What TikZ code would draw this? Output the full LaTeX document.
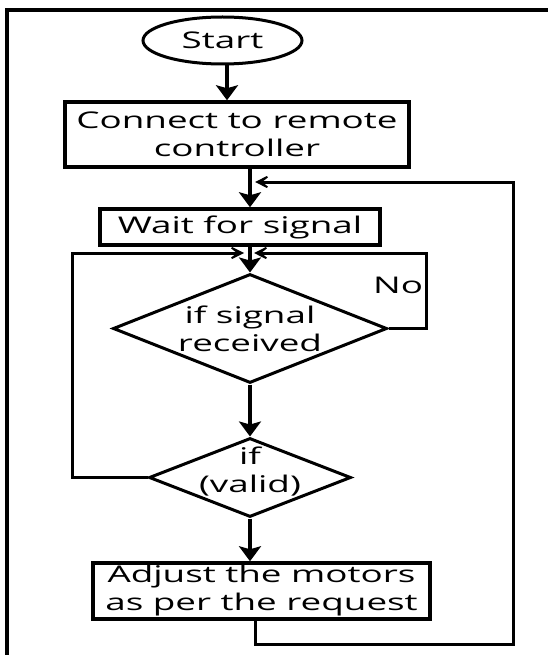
\documentclass[tikz,border=0pt]{standalone}
\usepackage{fontspec}
\setmainfont{Open Sans}[FakeStretch=1.6]
\usetikzlibrary{shapes.geometric,arrows.meta}

\tikzset{
	every node/.style={font=\fontsize{23}{28}\selectfont},
	term/.style={shape=ellipse,draw=black,line width=3pt,minimum width=159pt,minimum height=47pt,inner sep=0pt},
	proc/.style={shape=rectangle,draw=black,line width=3.5pt,inner sep=0pt,align=center},
	dec/.style={shape=diamond,draw=black,line width=3pt,aspect=2.5,inner sep=0pt,align=center},
	arr/.style={line width=3.5pt,-{Stealth[length=15pt,width=22pt,inset=3pt]}},
	back/.style={line width=3pt,-{Stealth[length=20pt,width=20pt,inset=13pt]}},
}

\begin{document}
\begin{tikzpicture}[x=1pt,y=1pt]
	\useasboundingbox (0,0) rectangle (548,-655);
	\draw[line width=3.5pt] (7,-655) -- (7,-10) -- (548,-10);
	\node[term] (start) at (222.5,-40.5) {Start};
	\node[proc,minimum width=344pt,minimum height=65pt] (conn) at (237,-134.5) {Connect to remote\\controller};
	\node[proc,minimum width=280pt,minimum height=36pt] (wait) at (240,-227) {Wait for signal};
	\node[dec,minimum width=274pt,minimum height=109pt] (sig) at (250,-328.5) {if signal\\received};
	\node[dec,minimum width=202pt,minimum height=79pt,label={[align=center,yshift=6pt]center:if\\(valid)}] (valid) at (250,-477.5) {};
	\node[proc,minimum width=337pt,minimum height=56pt] (adjust) at (261.5,-591) {Adjust the motors\\as per the request};
	\node (no) at (398,-285) {No};
	\coordinate (j1) at (250,-182);
	\coordinate (j2) at (250,-253);
	\coordinate (r1) at (513,-644);
	\draw[arr] ([xshift=4.5pt]start.south) -- ([xshift=4.5pt]start.south |- conn.north);
	\draw[arr] (conn.south -| j1) -- (wait.north -| j1);
	\draw[arr] (wait.south -| sig) -- (sig.north);
	\draw[arr] (sig.south) -- (valid.north);
	\draw[arr] (valid.south) -- (valid.south |- adjust.north);
	\draw[back] (sig.east) -- ++(38,0) |- ([xshift=4pt]j2);
	\draw[back] (valid.west) -- ++(-75,0) |- ([xshift=-6pt]j2);
	\draw[back] ([xshift=-6.5pt]adjust.south) |- (r1) |- ([xshift=5pt]j1);
\end{tikzpicture}
\end{document}
